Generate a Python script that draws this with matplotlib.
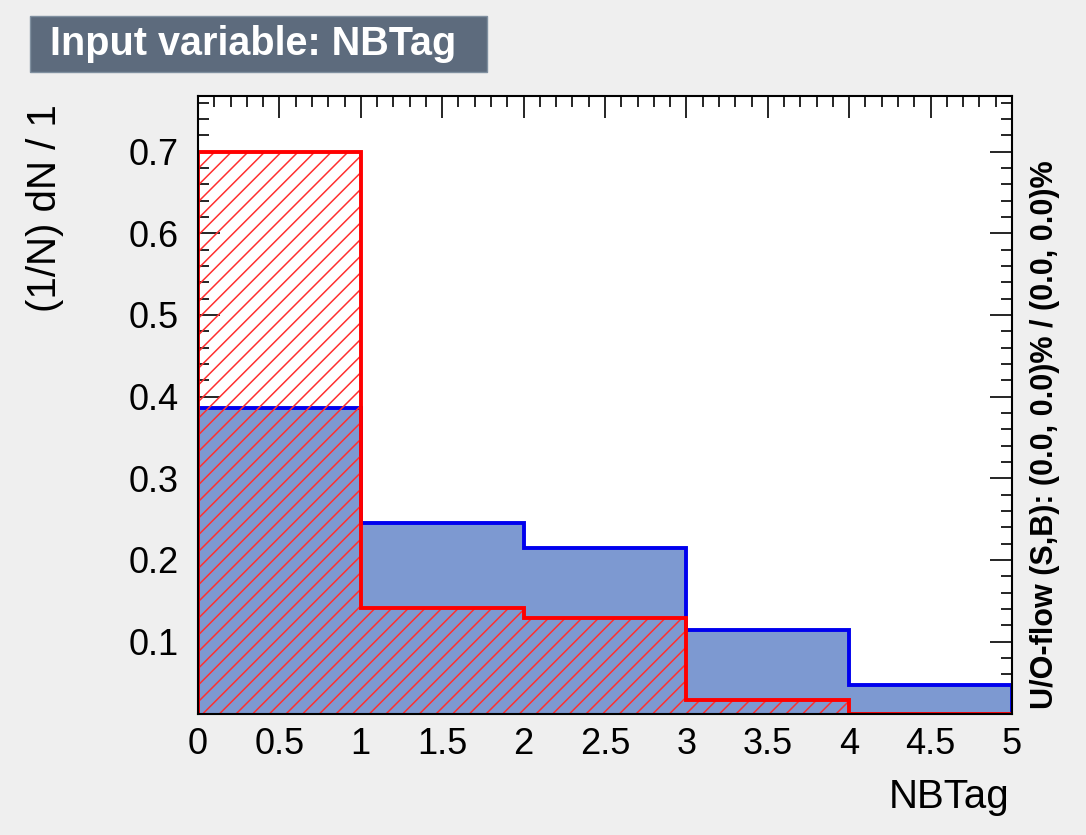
#Input variable NBTag: signal vs background shapes (TMVA style)

import numpy as np
import matplotlib.pyplot as plt
from matplotlib.ticker import MultipleLocator, FuncFormatter
from matplotlib.patches import Rectangle

#data
edges = [0, 1, 2, 3, 4, 5]
signal = [0.386, 0.245, 0.215, 0.114, 0.047]
background = [0.700, 0.141, 0.129, 0.0285, 0.012]
x_ticks = [0, 0.5, 1, 1.5, 2, 2.5, 3, 3.5, 4, 4.5, 5]
y_ticks = [0.1, 0.2, 0.3, 0.4, 0.5, 0.6, 0.7]

plt.rcParams['font.family'] = ['Liberation Sans', 'DejaVu Sans']
plt.rcParams['hatch.linewidth'] = 1.1

fig = plt.figure(figsize=(10.86, 8.35), dpi=100)
fig.patch.set_facecolor('#efefef')

ax = fig.add_axes([198/1086, 1 - 714/835, (1012 - 198)/1086, (714 - 96)/835])
ax.set_facecolor('white')

#signal: filled blue
ax.stairs(signal, edges, fill=True, color='#7d99d1', zorder=2)
ax.stairs(signal, edges, color='#0000ee', linewidth=2.8, zorder=3)

#background: red hatch
ax.bar(edges[:-1], background, width=1, align='edge', fill=False,
       hatch='//', edgecolor='#ff3030', linewidth=0, zorder=4)
ax.stairs(background, edges, color='#ff0000', linewidth=2.8, zorder=5)

ax.set_xlim(0, 5)
ax.set_ylim(0.0114, 0.768)

ax.set_xticks(x_ticks)
ax.set_yticks(y_ticks)
ax.xaxis.set_minor_locator(MultipleLocator(0.1))
ax.yaxis.set_minor_locator(MultipleLocator(0.02))
ax.xaxis.set_major_formatter(FuncFormatter(lambda v, p: '%g' % v))
ax.yaxis.set_major_formatter(FuncFormatter(lambda v, p: '%g' % v))

ax.tick_params(which='both', direction='in', top=True, right=True, width=1.2, colors='black')
ax.tick_params(which='major', length=16)
ax.tick_params(which='minor', length=8)
ax.tick_params(axis='x', which='major', labelsize=26, pad=9)
ax.tick_params(axis='y', which='major', labelsize=26, pad=14)
for s in ax.spines.values():
    s.set_linewidth(1.5)
    s.set_zorder(10)

#title box
fig.patches.append(Rectangle((30/1086, 1 - 72/835), (487 - 30)/1086, (72 - 16)/835,
                             transform=fig.transFigure, facecolor='#5d6b7d',
                             edgecolor='#8090a0', linewidth=1))
fig.text(50/1086, 1 - 44/835, 'Input variable: NBTag', color='white',
         fontsize=28.5, fontweight='bold', ha='left', va='center')

#axis titles
fig.text(45/1086, 1 - 104/835, '(1/N) dN / 1', rotation=90, fontsize=29,
         ha='center', va='top')
fig.text(1009/1086, 1 - 797/835, 'NBTag', fontsize=29, ha='right', va='center')

#overflow text on the right
fig.text(1045/1086, 1 - 435/835, 'U/O-flow (S,B): (0.0, 0.0)% / (0.0, 0.0)%',
         rotation=90, fontsize=22, fontweight='bold', ha='center', va='center')

fig.savefig('out.png', dpi=100, facecolor=fig.get_facecolor())
